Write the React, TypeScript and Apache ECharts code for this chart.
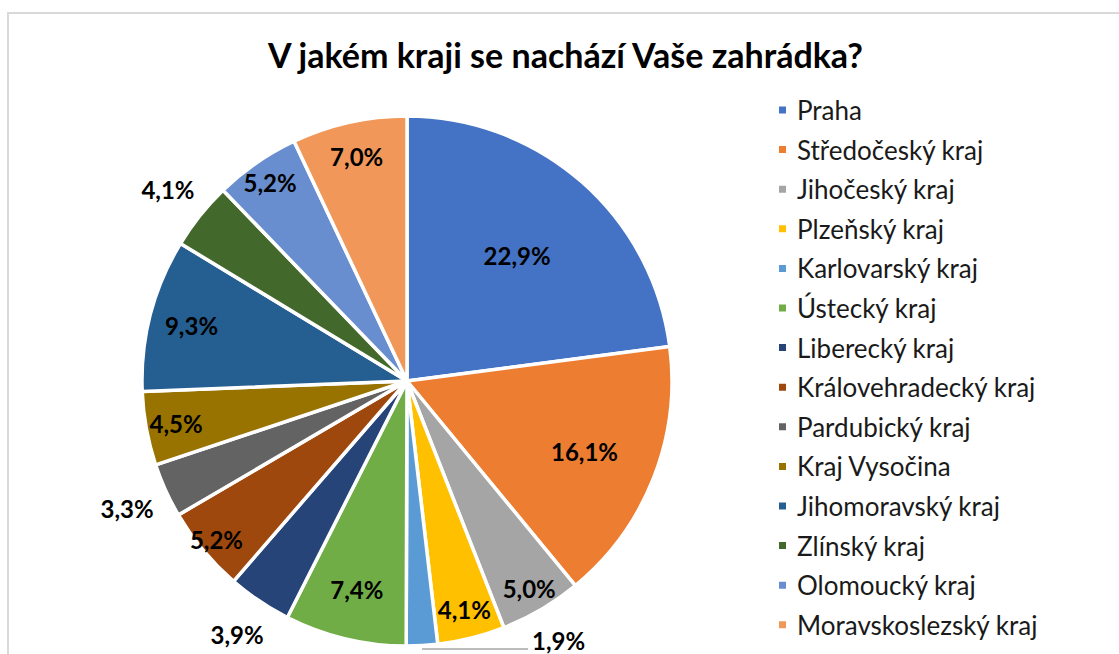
import React, { useEffect, useRef } from 'react';
import * as echarts from 'echarts';

const title = 'V jakém kraji se nachází Vaše zahrádka?';
const categories = [
  'Praha',
  'Středočeský kraj',
  'Jihočeský kraj',
  'Plzeňský kraj',
  'Karlovarský kraj',
  'Ústecký kraj',
  'Liberecký kraj',
  'Královehradecký kraj',
  'Pardubický kraj',
  'Kraj Vysočina',
  'Jihomoravský kraj',
  'Zlínský kraj',
  'Olomoucký kraj',
  'Moravskoslezský kraj',
];
const values = [22.9, 16.1, 5.0, 4.1, 1.9, 7.4, 3.9, 5.2, 3.3, 4.5, 9.3, 4.1, 5.2, 7.0];
const colors = [
  '#4472C4', '#ED7D31', '#A5A5A5', '#FFC000', '#5B9BD5', '#70AD47', '#264478',
  '#9E480E', '#636363', '#997300', '#255E91', '#43682B', '#698ED0', '#F1975A',
];
// label distance from centre, as a fraction of the radius
const labelRadius = [0.63, 0.72, 0.91, 0.89, 1.0, 0.81, 1.15, 0.935, 1.16, 0.886, 0.84, 1.155, 0.91, 0.87];
// which slice gets a horizontal leader line
const leaderIndex = 4;

export default function App() {
  const ref = useRef<HTMLDivElement>(null);
  useEffect(() => {
    const chart = echarts.init(ref.current!, null, { renderer: 'svg' });
    const cx = 407;
    const cy = 381;
    const R = 265;
    const total = values.reduce((a, b) => a + b, 0);
    const cum: number[] = [];
    let acc = 0;
    values.forEach((v) => {
      cum.push(acc);
      acc += v;
    });
    const fmt = (v: number) => v.toFixed(1).replace('.', ',') + '%';

    chart.setOption({
      animation: false,
      backgroundColor: '#ffffff',
      title: {
        text: title,
        left: 263,
        top: 32,
        textStyle: { fontFamily: 'Lato', fontWeight: 'bold', fontSize: 34, color: '#000000' },
      },
      legend: {
        orient: 'vertical',
        left: 772,
        top: 92,
        itemWidth: 19,
        itemHeight: 9,
        itemGap: 13.6,
        icon: 'path://M0,0h1v1h-1z',
        data: categories,
        textStyle: { fontFamily: 'Lato', fontSize: 26, lineHeight: 26, color: '#1a1a1a' },
      },
      graphic: [
        {
          type: 'rect',
          shape: { x: 8, y: 13, width: 1130, height: 700 },
          style: { fill: 'none', stroke: '#d9d9d9', lineWidth: 2 },
          silent: true,
        },
      ],
      series: [
        {
          type: 'pie',
          center: [cx, cy],
          radius: R,
          startAngle: 90,
          clockwise: true,
          avoidLabelOverlap: false,
          itemStyle: { borderColor: '#ffffff', borderWidth: 3.5 },
          label: {
            show: true,
            position: 'inside',
            formatter: (p: any) => fmt(p.value),
            fontFamily: 'Lato',
            fontWeight: 'bold',
            fontSize: 24,
            color: '#000000',
          },
          labelLine: { show: false },
          labelLayout: (p: any) => {
            const i = p.dataIndex;
            const mid = ((cum[i] + values[i] / 2) / total) * Math.PI * 2;
            if (i === leaderIndex) {
              const ex = cx + R * 1.005 * Math.sin(mid);
              const ey = cy - R * 1.005 * Math.cos(mid) + 2;
              const endX = ex + 106;
              return {
                x: endX + 4,
                y: ey - 8,
                align: 'left',
                verticalAlign: 'middle',
                labelLinePoints: [[ex, ey], [endX, ey], [endX, ey]],
              };
            }
            const r = R * labelRadius[i];
            return {
              x: cx + r * Math.sin(mid),
              y: cy - r * Math.cos(mid),
              align: 'center',
              verticalAlign: 'middle',
            };
          },
          data: categories.map((name, i) => {
            const item: any = { name, value: values[i], itemStyle: { color: colors[i] } };
            if (i === leaderIndex) {
              item.label = { position: 'outside' };
              item.labelLine = { show: true, length: 10, length2: 10, lineStyle: { color: '#a6a6a6', width: 1.5 } };
            }
            return item;
          }),
        },
      ],
    });
    return () => chart.dispose();
  }, []);
  return (
    <div
      ref={ref}
      style={{ position: 'fixed', left: 0, top: 0, width: 1119, height: 654, background: '#fff' }}
    />
  );
}
